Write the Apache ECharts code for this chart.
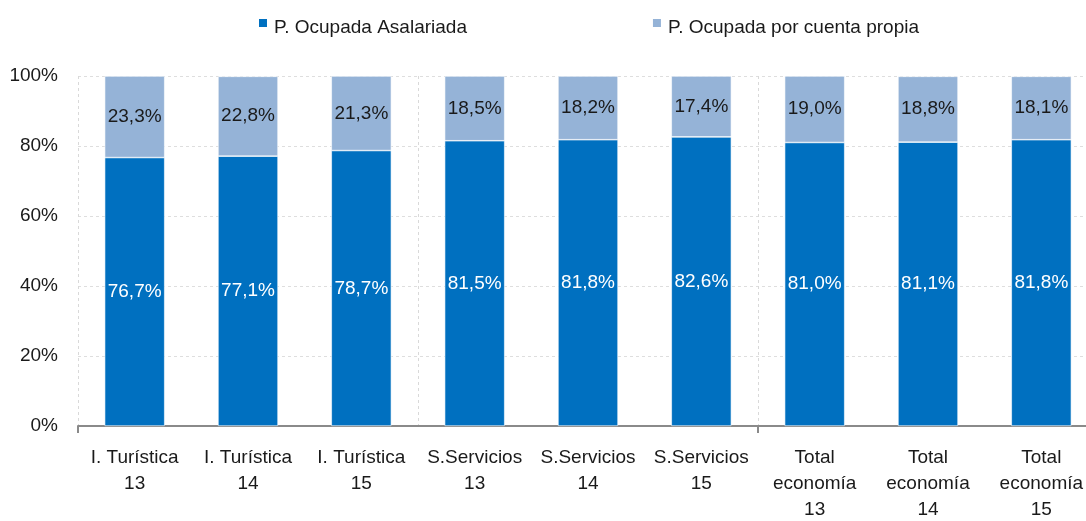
<!DOCTYPE html>
<html>
<head>
<meta charset="utf-8">
<script src="https://cdn.jsdelivr.net/npm/echarts@6/dist/echarts.min.js"></script>
<style>html,body{margin:0;padding:0;background:#fff;overflow:hidden;width:1086px;height:521px}#c{width:1098px;height:521px}</style>
</head>
<body>
<div id="c"></div>
<script>
var categories = ["I. Turística\n13","I. Turística\n14","I. Turística\n15","S.Servicios\n13","S.Servicios\n14","S.Servicios\n15","Total\neconomía\n13","Total\neconomía\n14","Total\neconomía\n15"];
var asalariada = [76.7, 77.1, 78.7, 81.5, 81.8, 82.6, 81.0, 81.1, 81.8];
var cuentaPropia = [23.3, 22.8, 21.3, 18.5, 18.2, 17.4, 19.0, 18.8, 18.1];
var yTicks = [0, 20, 40, 60, 80, 100];
var seriesNames = ["P. Ocupada Asalariada", "P. Ocupada por cuenta propia"];

var FONT = "'Liberation Sans', Arial, sans-serif";
var FS = 19;
function fmt(p){ return p.value.toFixed(1).replace('.', ',') + '%'; }

var chart = echarts.init(document.getElementById('c'), null, {renderer:'canvas'});
chart.setOption({
  animation: false,
  textStyle: {fontFamily: FONT},
  legend: {
    top: 12, left: 252,
    itemWidth: 10, itemHeight: 20, itemGap: 184,
    icon: 'path://M0,0L10,0L10,10L0,10Z M0,20L0.01,20L0.01,20.01Z',
    textStyle: {fontSize: FS, color: '#1a1a1a', fontFamily: FONT, padding: [0,0,0,1]},
    data: seriesNames
  },
  grid: {left: 78, right: 0, top: 76, height: 350, outerBoundsMode: 'none'},
  xAxis: {
    type: 'category',
    data: categories,
    axisLine: {lineStyle: {color: '#8a8a8a', width: 2}},
    axisTick: {show: true, length: 7, interval: function(i){ return i === 0 || i === 6; }, lineStyle: {color: '#8a8a8a', width: 2}},
    splitLine: {show: true, interval: function(i){ return i % 3 === 0; }, lineStyle: {color: '#d9d9d9', type: [3,3], width: 1}},
    axisLabel: {fontSize: FS, color: '#1a1a1a', lineHeight: 26, margin: 19, interval: 0, fontFamily: FONT}
  },
  yAxis: {
    type: 'value', min: 0, max: 100, interval: 20,
    axisLine: {show: false}, axisTick: {show: false},
    splitLine: {lineStyle: {color: '#dedede', type: [3,3], width: 1}},
    axisLabel: {fontSize: FS, color: '#1a1a1a', margin: 20, fontFamily: FONT,
      formatter: function(v){ return yTicks.indexOf(v) >= 0 ? v + '%' : ''; }}
  },
  series: [
    {
      name: seriesNames[0], type: 'bar', stack: 'a', barWidth: '53%',
      data: asalariada,
      itemStyle: {color: '#0070C0', borderColor: '#ffffff', borderWidth: 0.6},
      label: {show: true, position: 'inside', color: '#ffffff', fontSize: FS, fontFamily: FONT, formatter: fmt}
    },
    {
      name: seriesNames[1], type: 'bar', stack: 'a', barWidth: '53%',
      data: cuentaPropia,
      itemStyle: {color: '#95B3D7', borderColor: '#ffffff', borderWidth: 0.6},
      label: {show: true, position: 'inside', color: '#1a1a1a', fontSize: FS, fontFamily: FONT, formatter: fmt}
    }
  ]
});
</script>
</body>
</html>
